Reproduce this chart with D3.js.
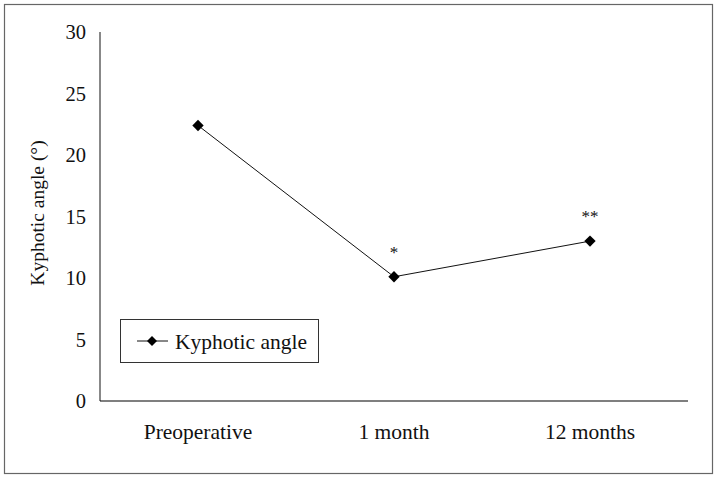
<!DOCTYPE html>
<html><head><meta charset="utf-8">
<script src="https://cdn.jsdelivr.net/npm/d3@7"></script>
<style>body{margin:0;background:#fff}svg{display:block}text{font-family:"Liberation Serif","Times New Roman",serif;fill:#111}</style>
</head><body>
<script>
const categories = ["Preoperative", "1 month", "12 months"];
const values = [22.4, 10.1, 13.0];
const annotations = ["", "*", "**"];
const yTicks = [0, 5, 10, 15, 20, 25, 30];
const seriesName = "Kyphotic angle";
const yTitle = "Kyphotic angle (°)";

const W = 717, H = 479;
const svg = d3.select("body").append("svg").attr("width", W).attr("height", H);
svg.append("rect").attr("x", 4.5).attr("y", 4.5).attr("width", 708).attr("height", 469)
  .attr("fill", "#fff").attr("stroke", "#666").attr("stroke-width", 1.2);

const x = d3.scalePoint().domain(categories).range([100, 688]).padding(0.5);
const y = d3.scaleLinear().domain([0, 30]).range([401, 32]);

// y axis
svg.append("line").attr("x1", 100).attr("x2", 100).attr("y1", y(30)).attr("y2", y(0))
  .attr("stroke", "#888").attr("stroke-width", 2);
svg.selectAll(".yt").data(yTicks).enter().append("text")
  .attr("x", 86).attr("y", d => y(d)).attr("dy", "0.35em").attr("text-anchor", "end")
  .attr("font-size", 20.5).text(d => d);
// x axis
svg.append("line").attr("x1", 100).attr("x2", 688).attr("y1", y(0)).attr("y2", y(0))
  .attr("stroke", "#000").attr("stroke-width", 1.2);
svg.selectAll(".xt").data(categories).enter().append("text")
  .attr("x", d => x(d)).attr("y", 439).attr("text-anchor", "middle")
  .attr("font-size", 21.5).text(d => d);
// y title
svg.append("text").attr("transform", `translate(44,213) rotate(-90)`)
  .attr("text-anchor", "middle").attr("font-size", 19.5).text(yTitle);

const data = categories.map((c, i) => ({c, v: values[i], a: annotations[i]}));
svg.append("path").datum(data)
  .attr("d", d3.line().x(d => x(d.c)).y(d => y(d.v)))
  .attr("fill", "none").attr("stroke", "#111").attr("stroke-width", 1);
svg.selectAll(".pt").data(data).enter().append("path")
  .attr("transform", d => `translate(${x(d.c)},${y(d.v)}) rotate(45)`)
  .attr("d", d3.symbol().type(d3.symbolSquare).size(64)).attr("fill", "#000");
svg.selectAll(".ann").data(data).enter().append("text")
  .attr("x", d => x(d.c)).attr("y", d => y(d.v) - 19).attr("text-anchor", "middle")
  .attr("font-size", 17).attr("font-family", "DejaVu Sans").text(d => d.a);

// legend
svg.append("rect").attr("x", 120.5).attr("y", 319.5).attr("width", 198).attr("height", 43)
  .attr("fill", "#fff").attr("stroke", "#333").attr("stroke-width", 1);
svg.append("line").attr("x1", 137).attr("x2", 168).attr("y1", 341).attr("y2", 341)
  .attr("stroke", "#111").attr("stroke-width", 1);
svg.append("path").attr("transform", "translate(152,341) rotate(45)")
  .attr("d", d3.symbol().type(d3.symbolSquare).size(50)).attr("fill", "#000");
svg.append("text").attr("x", 175).attr("y", 341).attr("dy", "0.35em")
  .attr("font-size", 21.5).text(seriesName);
</script>
</body></html>
